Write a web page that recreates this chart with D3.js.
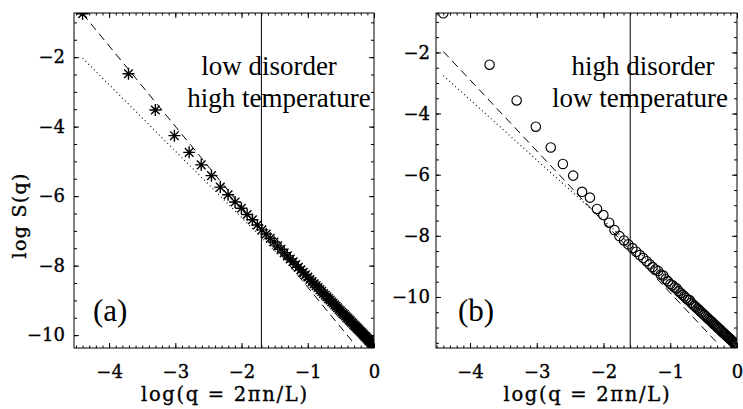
<!DOCTYPE html>
<html><head><meta charset="utf-8">
<script src="https://cdn.jsdelivr.net/npm/d3@7"></script>
<style>body{margin:0;background:#fff} svg{display:block}
.tf{font-family:'DejaVu Serif',serif;fill:#000;stroke:#000;stroke-width:0.35px;}
.tn{font-family:'Liberation Serif','Times New Roman',serif;fill:#000;}
</style>
</head><body>
<svg id="c" width="743" height="409"></svg>
<script>
// ---- data ----
const L = 512;                       // system size, q = 2*pi*n/L
const modeN = d3.range(1, 82);        // mode numbers n = 1..81
const starsA = [-0.75,-2.48,-3.52,-4.26,-4.74,-5.10,-5.41,-5.74,-5.96,
  -6.17,-6.35,-6.53,-6.68,-6.83,-6.97,-7.09,-7.21,-7.32,-7.43,
  -7.53,-7.63,-7.72,-7.81,-7.89,-7.97,-8.05,-8.12,-8.19,-8.26,
  -8.33,-8.40,-8.46,-8.52,-8.58,-8.63,-8.69,-8.74,-8.80,-8.85,
  -8.90,-8.95,-8.99,-9.04,-9.08,-9.13,-9.17,-9.21,-9.26,-9.30,
  -9.34,-9.38,-9.41,-9.45,-9.49,-9.52,-9.56,-9.59,-9.63,-9.66,
  -9.70,-9.73,-9.76,-9.79,-9.82,-9.85,-9.88,-9.91,-9.94,-9.97,
  -10.00,-10.03,-10.05,-10.08,-10.11,-10.14,-10.16,-10.19,-10.21,-10.24,
  -10.26,-10.29];
const circlesB = [-0.72,-2.40,-3.57,-4.43,-5.11,-5.65,-6.03,-6.56,-6.75,
  -7.12,-7.32,-7.57,-7.81,-8.01,-8.15,-8.28,-8.40,-8.52,-8.63,
  -8.73,-8.83,-8.93,-9.02,-9.10,-9.15,-9.27,-9.30,-9.42,-9.49,
  -9.58,-9.62,-9.69,-9.72,-9.81,-9.87,-9.93,-9.98,-10.04,-10.09,
  -10.10,-10.19,-10.24,-10.29,-10.33,-10.38,-10.42,-10.47,-10.51,-10.55,
  -10.59,-10.63,-10.67,-10.71,-10.75,-10.79,-10.82,-10.86,-10.90,-10.93,
  -10.96,-11.00,-11.03,-11.06,-11.10,-11.13,-11.16,-11.19,-11.22,-11.25,
  -11.28,-11.31,-11.33,-11.36,-11.39,-11.42,-11.44,-11.47,-11.50,-11.52,
  -11.55,-11.57];
const dashedA_x = [-4.40, -0.31], dashedA_y = [-0.75, -10.22];
const dottedA_x = [-4.40, -0.31], dottedA_y = [-2.03, -9.84];
const dashedB_x = [-4.40, -0.31], dashedB_y = [-1.97, -11.47];
const dottedB_x = [-4.40, -0.31], dottedB_y = [-2.76, -10.82];
const vlineA = -1.70, vlineB = -1.60;
const xTicks = [-4, -3, -2, -1, 0];
const xMinor = d3.range(-45, 1).map(i => i / 10);
const yTicks = [-10, -8, -6, -4, -2];
const yMinor = d3.range(-24, 0).map(i => i / 2);
const notesA = ["low disorder", "high temperature"];
const notesB = ["high disorder", "low temperature"];
const panelTags = ["(a)", "(b)"];
const xTitle = "log(q = 2\u03C0n/L)";
const yTitle = "log S(q)";

const logQ = modeN.map(n => Math.log(2 * Math.PI * n / L));

const svg = d3.select("#c");
const panels = [
  {id:"a", xd:[-4.53,0], xr:[74,374], yd:[-10.37,-0.73], yr:[348,13], ys:starsA, sym:"star",
   dash:[dashedA_x,dashedA_y], dot:[dottedA_x,dottedA_y], vl:vlineA, notes:notesA, tag:panelTags[0],
   noteX:[269,279], tagX:93, ylabPad:9},
  {id:"b", xd:[-4.51,0], xr:[436,737], yd:[-11.67,-0.71], yr:[348,13], ys:circlesB, sym:"circle",
   dash:[dashedB_x,dashedB_y], dot:[dottedB_x,dottedB_y], vl:vlineB, notes:notesB, tag:panelTags[1],
   noteX:[643,640], tagX:458, ylabPad:6}
];

panels.forEach(p => {
  const x = d3.scaleLinear().domain(p.xd).range(p.xr);
  const y = d3.scaleLinear().domain(p.yd).range(p.yr);
  const x0 = p.xr[0], x1 = p.xr[1], y0 = p.yr[1], y1 = p.yr[0];
  const g = svg.append("g");

  g.append("clipPath").attr("id","clip"+p.id).append("rect")
    .attr("x", x0).attr("y", y0).attr("width", x1-x0).attr("height", y1-y0);
  const plot = g.append("g").attr("clip-path", `url(#clip${p.id})`);

  const line = d3.line().x(d => x(d[0])).y(d => y(d[1]));
  plot.append("path").datum(d3.zip(p.dash[0], p.dash[1])).attr("d", line)
    .attr("fill","none").attr("stroke","#000").attr("stroke-width",1).attr("stroke-dasharray","8,5");
  plot.append("path").datum(d3.zip(p.dot[0], p.dot[1])).attr("d", line)
    .attr("fill","none").attr("stroke","#000").attr("stroke-width",1.1).attr("stroke-dasharray","1,3");
  plot.append("line").attr("x1", x(p.vl)).attr("x2", x(p.vl)).attr("y1", y0).attr("y2", y1)
    .attr("stroke","#000").attr("stroke-width",1);

  const pts = d3.zip(logQ, p.ys);
  if (p.sym === "star") {
    plot.selectAll("path.s").data(pts).join("path").attr("class","s")
      .attr("transform", d => `translate(${x(d[0])},${y(d[1])})`)
      .attr("d","M-6,0H6M0,-6V6M-4.3,-4.3L4.3,4.3M-4.3,4.3L4.3,-4.3")
      .attr("stroke","#000").attr("stroke-width",1.4).attr("fill","none");
  } else {
    plot.selectAll("circle").data(pts).join("circle")
      .attr("cx", d => x(d[0])).attr("cy", d => y(d[1])).attr("r", 4.7)
      .attr("fill","none").attr("stroke","#000").attr("stroke-width",1.15);
  }

  const fmt = d3.format("d");
  const xm = xMinor.filter(v => v >= p.xd[0] && v <= p.xd[1]);
  const ym = yMinor.filter(v => v >= p.yd[0] && v <= p.yd[1]);
  g.append("g").attr("transform", `translate(0,${y1})`)
    .call(d3.axisBottom(x).tickValues(xTicks).tickSize(-5).tickPadding(17).tickFormat(fmt));
  g.append("g").attr("transform", `translate(0,${y1})`)
    .call(d3.axisBottom(x).tickValues(xm).tickSize(-2.5).tickFormat(""));
  g.append("g").attr("transform", `translate(0,${y0})`)
    .call(d3.axisTop(x).tickValues(xTicks).tickSize(-5).tickFormat(""));
  g.append("g").attr("transform", `translate(0,${y0})`)
    .call(d3.axisTop(x).tickValues(xm).tickSize(-2.5).tickFormat(""));
  g.append("g").attr("transform", `translate(${x0},0)`)
    .call(d3.axisLeft(y).tickValues(yTicks).tickSize(-5).tickPadding(p.ylabPad).tickFormat(fmt));
  g.append("g").attr("transform", `translate(${x0},0)`)
    .call(d3.axisLeft(y).tickValues(ym).tickSize(-3).tickFormat(""));
  g.append("g").attr("transform", `translate(${x1},0)`)
    .call(d3.axisRight(y).tickValues(yTicks).tickSize(-5).tickFormat(""));
  g.append("g").attr("transform", `translate(${x1},0)`)
    .call(d3.axisRight(y).tickValues(ym).tickSize(-3).tickFormat(""));
  g.selectAll(".domain").remove();
  g.selectAll(".tick line").attr("stroke","#000").attr("stroke-width",1);
  g.selectAll(".tick text").attr("class","tf").style("font-size","18px");

  g.append("rect").attr("x", x0).attr("y", y0).attr("width", x1-x0).attr("height", y1-y0)
    .attr("fill","none").attr("stroke","#000").attr("stroke-width",1);

  g.append("text").attr("class","tf").attr("x", (x0+x1)/2).attr("y", 401).attr("text-anchor","middle")
    .style("font-size","19.5px").attr("textLength", 166).attr("lengthAdjust","spacing").text(xTitle);

  g.append("text").attr("class","tn").attr("x", p.noteX[0]).attr("y", 75).attr("text-anchor","middle")
    .style("font-size","27px").text(p.notes[0]);
  g.append("text").attr("class","tn").attr("x", p.noteX[1]).attr("y", 107).attr("text-anchor","middle")
    .style("font-size","27px").text(p.notes[1]);
  g.append("text").attr("class","tn").attr("x", p.tagX).attr("y", 321)
    .style("font-size","31px").text(p.tag);
});

svg.append("text").attr("class","tf").attr("transform","translate(26,216) rotate(-90)").attr("text-anchor","middle")
  .style("font-size","19px").attr("textLength", 85).attr("lengthAdjust","spacing").text(yTitle);
</script>
</body></html>
